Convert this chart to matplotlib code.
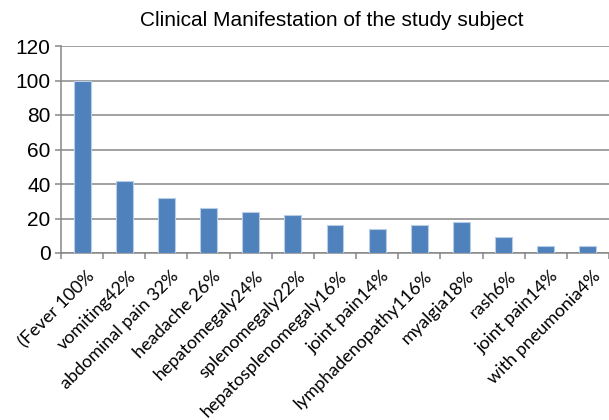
import numpy as np
import matplotlib
matplotlib.use("Agg")
import matplotlib.pyplot as plt
import matplotlib.transforms as mtransforms

categories = ["(Fever 100%", "vomiting42%", "abdominal pain 32%", "headache 26%",
              "hepatomegaly24%", "splenomegaly22%", "hepatosplenomegaly16%",
              "joint pain14%", "lymphadenopathy116%", "myalgia18%", "rash6%",
              "joint pain14%", "with pneumonia4%"]
values = [100, 42, 32, 26, 24, 22, 16, 14, 16, 18, 9, 4, 4]
yticks = [0, 20, 40, 60, 80, 100, 120]

grid_col = "#878787"
bar_col = "#4f81bd"

fig = plt.figure(figsize=(6.09, 4.20), dpi=100)
ax = fig.add_axes([61 / 609, 1 - 253 / 420, 1 - 61 / 609, (253 - 46) / 420])

x = np.arange(len(categories))
ax.bar(x, values, width=0.4, color=bar_col, edgecolor="#b9cde5", linewidth=0.8, zorder=3)

ax.set_xlim(-0.5, len(categories) - 0.5)
ax.set_ylim(0, 120)
ax.set_yticks(yticks)
ax.set_yticklabels([str(v) for v in yticks], fontsize=15, family="Liberation Sans")
ax.yaxis.grid(True, color=grid_col, linewidth=1.1, zorder=0)
ax.tick_params(axis="y", direction="out", length=4.5, width=1.1, color=grid_col, pad=3)

# ticks at category boundaries, labels at centres
ax.set_xticks(np.arange(len(categories) + 1) - 0.5)
ax.set_xticklabels([])
ax.set_xticks(x, minor=True)
ax.set_xticklabels(categories, minor=True, rotation=45, ha="right", va="top",
                   rotation_mode="anchor", fontsize=13, family="Lato")
ax.tick_params(axis="x", which="major", direction="out", length=4, width=1.1, color=grid_col)
ax.tick_params(axis="x", which="minor", length=0, pad=11)
offset = mtransforms.ScaledTranslation(4 / 100, 0, fig.dpi_scale_trans)
for lab in ax.get_xticklabels(minor=True):
    lab.set_transform(lab.get_transform() + offset)

for side in ["top", "right"]:
    ax.spines[side].set_visible(False)
for side in ["left", "bottom"]:
    ax.spines[side].set_color(grid_col)
    ax.spines[side].set_linewidth(1.1)

fig.text(332 / 609, 1 - 21 / 420, "Clinical Manifestation of the study subject",
         ha="center", va="center", fontsize=15, family="Liberation Sans")

fig.savefig("out.png", dpi=100)
